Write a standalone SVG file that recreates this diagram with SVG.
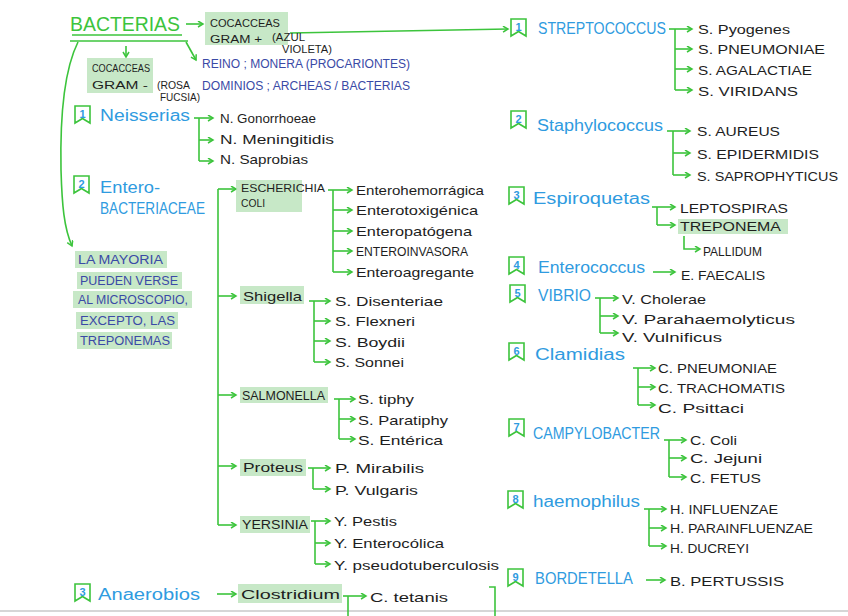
<svg xmlns="http://www.w3.org/2000/svg" xmlns:xlink="http://www.w3.org/1999/xlink" width="848" height="616" viewBox="0 0 848 616">
<style>
text{font-family:"Liberation Sans","DejaVu Sans",sans-serif}
.h{fill:#2f9be0;font-size:16px}
.it{fill:#1e1e1e;font-size:13px}
.sm{fill:#1e1e1e;font-size:11px}
.nt{fill:#3a4aa6;font-size:12px}
.num{fill:#2f9be0;font-size:11px;text-anchor:middle;font-weight:bold}
.hl{fill:#a9dca9;opacity:.65}
.bm{fill:#fff;stroke:#3cc43c;stroke-width:1.6}
.c path,.c line{fill:none;stroke:#3cc43c;stroke-width:1.6}
.ar{marker-end:url(#ah)}
</style>
<defs>
<marker id="ah" markerWidth="8" markerHeight="8" refX="6" refY="3.5" orient="auto" markerUnits="userSpaceOnUse"><path d="M1,0.5 L6,3.5 L1,6.5" fill="none" stroke="#3cc43c" stroke-width="1.5"/></marker>
<path id="bm" d="M0,0 H15 V17 L7.5,12.5 L0,17 Z"/>
</defs>
<rect width="848" height="616" fill="#fff"/>
<line x1="0" y1="611" x2="848" y2="611" stroke="#c8c8c8" stroke-width="1.5"/>

<!-- connectors -->
<g class="c" id="connectors">
<line x1="72" y1="35" x2="182" y2="35"/>
<line x1="70" y1="41" x2="188" y2="41"/>
<path class="ar" d="M186,24 H203"/>
<path class="ar" d="M126,46 V57"/>
<path class="ar" d="M186,42 L196,60"/>
<path class="ar" d="M290,33 L508,29"/>
<path class="ar" d="M78,42 C64,70 60,120 61,170 C62,205 64,228 72,246"/>
<!-- streptococcus -->
<path class="ar" d="M669,29 H692"/><path d="M675,29 V90"/>
<path class="ar" d="M675,49 H692"/><path class="ar" d="M675,69 H692"/><path class="ar" d="M675,90 H692"/>
<!-- staphylococcus -->
<path class="ar" d="M667,131 H690"/><path d="M673,131 V175"/>
<path class="ar" d="M673,153 H690"/><path class="ar" d="M673,175 H690"/>
<!-- espiroquetas -->
<path class="ar" d="M652,207 H675"/><path d="M657,207 V225"/><path class="ar" d="M657,225 H675"/>
<path class="ar" d="M684,236 V249 H700"/>
<!-- enterococcus -->
<path class="ar" d="M653,272 H675"/>
<!-- vibrio -->
<path class="ar" d="M595,298 H618"/><path d="M600,298 V333"/>
<path class="ar" d="M600,316 H618"/><path class="ar" d="M600,333 H618"/>
<!-- clamidias -->
<path class="ar" d="M633,368 H655"/><path d="M638,368 V405"/>
<path class="ar" d="M638,387 H655"/><path class="ar" d="M638,405 H655"/>
<!-- campylobacter -->
<path class="ar" d="M664,440 H686"/><path d="M669,440 V477"/>
<path class="ar" d="M669,458 H686"/><path class="ar" d="M669,477 H686"/>
<!-- haemophilus -->
<path class="ar" d="M644,509 H666"/><path d="M649,509 V546"/>
<path class="ar" d="M649,528 H666"/><path class="ar" d="M649,546 H666"/>
<!-- bordetella -->
<path class="ar" d="M646,580 H665"/>
<!-- neisserias -->
<path class="ar" d="M194,118 H213"/><path d="M199,118 V161"/>
<path class="ar" d="M199,140 H213"/><path class="ar" d="M199,161 H213"/>
<!-- enterobacteriaceae main -->
<path d="M218,189 V525"/>
<path class="ar" d="M218,189 H236"/><path class="ar" d="M218,296 H236"/><path class="ar" d="M218,395 H236"/><path class="ar" d="M218,466 H236"/><path class="ar" d="M218,525 H236"/>
<!-- escherichia -->
<path class="ar" d="M328,190 H352"/><path d="M333,190 V272"/>
<path class="ar" d="M333,210 H352"/><path class="ar" d="M333,231 H352"/><path class="ar" d="M333,251 H352"/><path class="ar" d="M333,272 H352"/>
<!-- shigella -->
<path class="ar" d="M309,301 H330"/><path d="M314,301 V362"/>
<path class="ar" d="M314,321 H330"/><path class="ar" d="M314,341 H330"/><path class="ar" d="M314,362 H330"/>
<!-- salmonella -->
<path class="ar" d="M334,399 H355"/><path d="M339,399 V439"/>
<path class="ar" d="M339,419 H355"/><path class="ar" d="M339,439 H355"/>
<!-- proteus -->
<path class="ar" d="M308,468 H330"/><path d="M313,468 V489"/><path class="ar" d="M313,489 H330"/>
<!-- yersinia -->
<path class="ar" d="M311,521 H330"/><path d="M315,521 V564"/>
<path class="ar" d="M315,543 H330"/><path class="ar" d="M315,564 H330"/>
<!-- anaerobios -->
<path class="ar" d="M217,594 H236"/>
<path class="ar" d="M343,596 H366"/><path d="M348,596 V616"/>
<path d="M489,587 H495 V616"/>
</g>

<!-- root -->
<g id="bacterias">
<text x="70" y="31" fill="#3cc43c" font-size="21" textLength="110" lengthAdjust="spacingAndGlyphs">BACTERIAS</text>
</g>
<g id="gram-pos">
<rect class="hl" x="205" y="12" width="83" height="33"/>
<text class="sm" x="210" y="27" textLength="70" lengthAdjust="spacingAndGlyphs">COCACCEAS</text>
<text class="sm" x="210" y="43" textLength="52" lengthAdjust="spacingAndGlyphs">GRAM +</text>
<text class="sm" x="272" y="41" font-size="10" textLength="33" lengthAdjust="spacingAndGlyphs">(AZUL</text>
<text class="sm" x="282" y="53" font-size="9" textLength="50" lengthAdjust="spacingAndGlyphs">VIOLETA)</text>
</g>
<g id="gram-neg">
<rect class="hl" x="87" y="58" width="66" height="35"/>
<text class="sm" x="92" y="72" font-size="10" textLength="58" lengthAdjust="spacingAndGlyphs">COCACCEAS</text>
<text class="sm" x="92" y="89" textLength="56" lengthAdjust="spacingAndGlyphs">GRAM -</text>
<text class="sm" x="157" y="89" font-size="10" textLength="33" lengthAdjust="spacingAndGlyphs">(ROSA</text>
<text class="sm" x="160" y="101" font-size="9" textLength="40" lengthAdjust="spacingAndGlyphs">FUCSIA)</text>
</g>
<g id="reino">
<text class="nt" x="202" y="68" textLength="208" lengthAdjust="spacingAndGlyphs">REINO ; MONERA (PROCARIONTES)</text>
<text class="nt" x="202" y="90" textLength="208" lengthAdjust="spacingAndGlyphs">DOMINIOS ; ARCHEAS / BACTERIAS</text>
</g>
<g id="nota">
<rect class="hl" x="75" y="251" width="92" height="17"/>
<rect class="hl" x="77" y="272" width="105" height="17"/>
<rect class="hl" x="73" y="291" width="119" height="17"/>
<rect class="hl" x="76" y="312" width="102" height="17"/>
<rect class="hl" x="77" y="332" width="95" height="17"/>
<text class="nt" x="78" y="264" textLength="85" lengthAdjust="spacingAndGlyphs">LA MAYORIA</text>
<text class="nt" x="80" y="285" textLength="98" lengthAdjust="spacingAndGlyphs">PUEDEN VERSE</text>
<text class="nt" x="78" y="304" textLength="110" lengthAdjust="spacingAndGlyphs">AL MICROSCOPIO,</text>
<text class="nt" x="80" y="325" textLength="95" lengthAdjust="spacingAndGlyphs">EXCEPTO, LAS</text>
<text class="nt" x="80" y="345" textLength="90" lengthAdjust="spacingAndGlyphs">TREPONEMAS</text>
</g>

<!-- left groups -->
<g id="neisserias">
<use xlink:href="#bm" class="bm" x="75" y="106"/><text class="num" x="82.5" y="118">1</text>
<text class="h" x="100" y="121" font-size="17" textLength="90" lengthAdjust="spacingAndGlyphs">Neisserias</text>
<text class="it" x="220" y="123" font-size="12" textLength="96" lengthAdjust="spacingAndGlyphs">N. Gonorrhoeae</text>
<text class="it" x="220" y="144" textLength="114" lengthAdjust="spacingAndGlyphs">N. Meningitidis</text>
<text class="it" x="220" y="164" font-size="12" textLength="88" lengthAdjust="spacingAndGlyphs">N. Saprobias</text>
</g>
<g id="enterobacteriaceae">
<use xlink:href="#bm" class="bm" x="74" y="176"/><text class="num" x="81.5" y="188">2</text>
<text class="h" x="100" y="193" font-size="17" textLength="60" lengthAdjust="spacingAndGlyphs">Entero-</text>
<text class="h" x="100" y="214" font-size="15" textLength="105" lengthAdjust="spacingAndGlyphs">BACTERIACEAE</text>
</g>
<g id="escherichia">
<rect class="hl" x="236" y="180" width="66" height="32"/>
<text class="sm" x="241" y="192" textLength="84" lengthAdjust="spacingAndGlyphs">ESCHERICHIA</text>
<text class="sm" x="241" y="207" textLength="24" lengthAdjust="spacingAndGlyphs">COLI</text>
<text class="it" x="356" y="195" textLength="128" lengthAdjust="spacingAndGlyphs">Enterohemorrágica</text>
<text class="it" x="356" y="215" textLength="122" lengthAdjust="spacingAndGlyphs">Enterotoxigénica</text>
<text class="it" x="356" y="236" textLength="116" lengthAdjust="spacingAndGlyphs">Enteropatógena</text>
<text class="it" x="356" y="256" textLength="112" lengthAdjust="spacingAndGlyphs">ENTEROINVASORA</text>
<text class="it" x="356" y="277" textLength="118" lengthAdjust="spacingAndGlyphs">Enteroagregante</text>
</g>
<g id="shigella">
<rect class="hl" x="240" y="286" width="64" height="18"/>
<text class="it" x="243" y="301" font-size="15" textLength="59" lengthAdjust="spacingAndGlyphs">Shigella</text>
<text class="it" x="335" y="306" textLength="108" lengthAdjust="spacingAndGlyphs">S. Disenteriae</text>
<text class="it" x="335" y="326" textLength="80" lengthAdjust="spacingAndGlyphs">S. Flexneri</text>
<text class="it" x="335" y="347" font-size="14" textLength="70" lengthAdjust="spacingAndGlyphs">S. Boydii</text>
<text class="it" x="335" y="367" textLength="69" lengthAdjust="spacingAndGlyphs">S. Sonnei</text>
</g>
<g id="salmonella">
<rect class="hl" x="240" y="387" width="88" height="16"/>
<text class="it" x="242" y="400" font-size="12" textLength="83" lengthAdjust="spacingAndGlyphs">SALMONELLA</text>
<text class="it" x="358" y="404" font-size="14" textLength="56" lengthAdjust="spacingAndGlyphs">S. tiphy</text>
<text class="it" x="358" y="425" font-size="14" textLength="90" lengthAdjust="spacingAndGlyphs">S. Paratiphy</text>
<text class="it" x="358" y="445" textLength="85" lengthAdjust="spacingAndGlyphs">S. Entérica</text>
</g>
<g id="proteus">
<rect class="hl" x="240" y="459" width="66" height="17"/>
<text class="it" x="243" y="472" textLength="60" lengthAdjust="spacingAndGlyphs">Proteus</text>
<text class="it" x="335" y="473" textLength="89" lengthAdjust="spacingAndGlyphs">P. Mirabilis</text>
<text class="it" x="335" y="495" textLength="83" lengthAdjust="spacingAndGlyphs">P. Vulgaris</text>
</g>
<g id="yersinia">
<rect class="hl" x="240" y="516" width="70" height="17"/>
<text class="it" x="242" y="529" font-size="12" textLength="66" lengthAdjust="spacingAndGlyphs">YERSINIA</text>
<text class="it" x="334" y="526" textLength="63" lengthAdjust="spacingAndGlyphs">Y. Pestis</text>
<text class="it" x="334" y="548" textLength="110" lengthAdjust="spacingAndGlyphs">Y. Enterocólica</text>
<text class="it" x="334" y="570" textLength="165" lengthAdjust="spacingAndGlyphs">Y. pseudotuberculosis</text>
</g>
<g id="anaerobios">
<use xlink:href="#bm" class="bm" x="75" y="584"/><text class="num" x="82.5" y="596">3</text>
<text class="h" x="98" y="600" font-size="18" textLength="102" lengthAdjust="spacingAndGlyphs">Anaerobios</text>
</g>
<g id="clostridium">
<rect class="hl" x="238" y="584" width="104" height="19"/>
<text class="it" x="241" y="599" font-size="15" textLength="99" lengthAdjust="spacingAndGlyphs">Clostridium</text>
<text class="it" x="370" y="602" textLength="78" lengthAdjust="spacingAndGlyphs">C. tetanis</text>
</g>

<!-- right column -->
<g id="streptococcus">
<use xlink:href="#bm" class="bm" x="511" y="19"/><text class="num" x="518.5" y="31">1</text>
<text class="h" x="538" y="34" font-size="14" textLength="128" lengthAdjust="spacingAndGlyphs">STREPTOCOCCUS</text>
<text class="it" x="698" y="34" font-size="14" textLength="92" lengthAdjust="spacingAndGlyphs">S. Pyogenes</text>
<text class="it" x="698" y="54" font-size="14" textLength="127" lengthAdjust="spacingAndGlyphs">S. PNEUMONIAE</text>
<text class="it" x="698" y="75" font-size="14" textLength="114" lengthAdjust="spacingAndGlyphs">S. AGALACTIAE</text>
<text class="it" x="698" y="96" font-size="14" textLength="100" lengthAdjust="spacingAndGlyphs">S. VIRIDANS</text>
</g>
<g id="staphylococcus">
<use xlink:href="#bm" class="bm" x="511" y="111"/><text class="num" x="518.5" y="123">2</text>
<text class="h" x="537" y="131" font-size="17" textLength="126" lengthAdjust="spacingAndGlyphs">Staphylococcus</text>
<text class="it" x="697" y="136" font-size="14" textLength="83" lengthAdjust="spacingAndGlyphs">S. AUREUS</text>
<text class="it" x="697" y="159" font-size="14" textLength="122" lengthAdjust="spacingAndGlyphs">S. EPIDERMIDIS</text>
<text class="it" x="697" y="181" font-size="14" textLength="141" lengthAdjust="spacingAndGlyphs">S. SAPROPHYTICUS</text>
</g>
<g id="espiroquetas">
<use xlink:href="#bm" class="bm" x="509" y="187"/><text class="num" x="516.5" y="199">3</text>
<text class="h" x="533" y="204" font-size="16" textLength="117" lengthAdjust="spacingAndGlyphs">Espiroquetas</text>
<text class="it" x="680" y="213" textLength="108" lengthAdjust="spacingAndGlyphs">LEPTOSPIRAS</text>
<rect class="hl" x="678" y="219" width="110" height="15"/>
<text class="it" x="680" y="231" textLength="101" lengthAdjust="spacingAndGlyphs">TREPONEMA</text>
<text class="it" x="703" y="256" textLength="59" lengthAdjust="spacingAndGlyphs">PALLIDUM</text>
</g>
<g id="enterococcus">
<use xlink:href="#bm" class="bm" x="509" y="257"/><text class="num" x="516.5" y="269">4</text>
<text class="h" x="538" y="273" font-size="16" textLength="107" lengthAdjust="spacingAndGlyphs">Enterococcus</text>
<text class="it" x="681" y="280" textLength="84" lengthAdjust="spacingAndGlyphs">E. FAECALIS</text>
</g>
<g id="vibrio">
<use xlink:href="#bm" class="bm" x="510" y="285"/><text class="num" x="517.5" y="297">5</text>
<text class="h" x="538" y="301" font-size="14" textLength="53" lengthAdjust="spacingAndGlyphs">VIBRIO</text>
<text class="it" x="622" y="304" textLength="84" lengthAdjust="spacingAndGlyphs">V. Cholerae</text>
<text class="it" x="622" y="324" font-size="14" textLength="173" lengthAdjust="spacingAndGlyphs">V. Parahaemolyticus</text>
<text class="it" x="622" y="342" textLength="100" lengthAdjust="spacingAndGlyphs">V. Vulnificus</text>
</g>
<g id="clamidias">
<use xlink:href="#bm" class="bm" x="509" y="343"/><text class="num" x="516.5" y="355">6</text>
<text class="h" x="535" y="360" font-size="17" textLength="90" lengthAdjust="spacingAndGlyphs">Clamidias</text>
<text class="it" x="658" y="373" textLength="119" lengthAdjust="spacingAndGlyphs">C. PNEUMONIAE</text>
<text class="it" x="658" y="393" textLength="127" lengthAdjust="spacingAndGlyphs">C. TRACHOMATIS</text>
<text class="it" x="658" y="413" textLength="86" lengthAdjust="spacingAndGlyphs">C. Psittaci</text>
</g>
<g id="campylobacter">
<use xlink:href="#bm" class="bm" x="509" y="419"/><text class="num" x="516.5" y="431">7</text>
<text class="h" x="533" y="439" font-size="15" textLength="127" lengthAdjust="spacingAndGlyphs">CAMPYLOBACTER</text>
<text class="it" x="690" y="445" textLength="47" lengthAdjust="spacingAndGlyphs">C. Coli</text>
<text class="it" x="690" y="463" textLength="72" lengthAdjust="spacingAndGlyphs">C. Jejuni</text>
<text class="it" x="690" y="483" textLength="71" lengthAdjust="spacingAndGlyphs">C. FETUS</text>
</g>
<g id="haemophilus">
<use xlink:href="#bm" class="bm" x="508" y="491"/><text class="num" x="515.5" y="503">8</text>
<text class="h" x="533" y="507" font-size="17" textLength="107" lengthAdjust="spacingAndGlyphs">haemophilus</text>
<text class="it" x="670" y="514" font-size="12" textLength="108" lengthAdjust="spacingAndGlyphs">H. INFLUENZAE</text>
<text class="it" x="670" y="533" font-size="12" textLength="143" lengthAdjust="spacingAndGlyphs">H. PARAINFLUENZAE</text>
<text class="it" x="670" y="553" font-size="12" textLength="79" lengthAdjust="spacingAndGlyphs">H. DUCREYI</text>
</g>
<g id="bordetella">
<use xlink:href="#bm" class="bm" x="508" y="569"/><text class="num" x="515.5" y="581">9</text>
<text class="h" x="535" y="584" font-size="16" textLength="98" lengthAdjust="spacingAndGlyphs">BORDETELLA</text>
<text class="it" x="670" y="586" textLength="114" lengthAdjust="spacingAndGlyphs">B. PERTUSSIS</text>
</g>
</svg>
